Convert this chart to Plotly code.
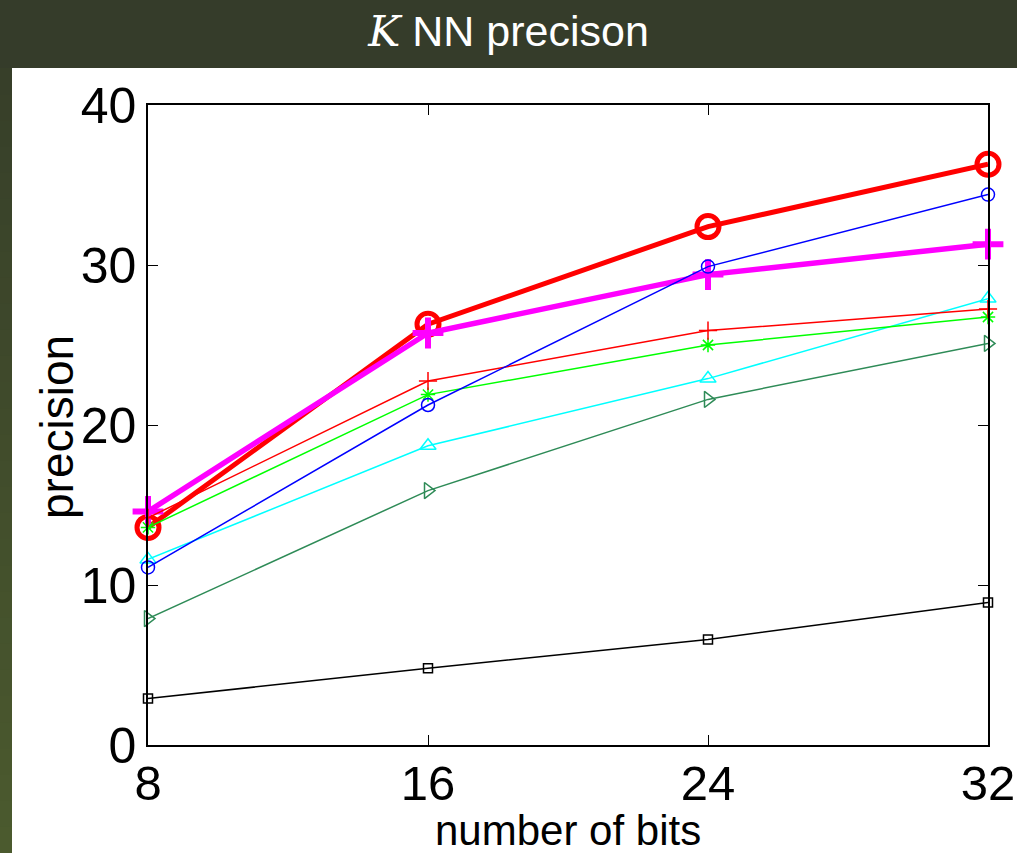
import plotly.graph_objects as go

bits = [8, 16, 24, 32]
red_thick = [13.6, 26.3, 32.4, 36.3]
magenta_thick = [14.6, 25.75, 29.4, 31.3]
blue = [11.1, 21.25, 29.9, 34.4]
red_thin = [14.2, 22.75, 25.9, 27.25]
green = [13.6, 21.9, 25.0, 26.75]
cyan = [11.6, 18.7, 22.9, 27.9]
seagreen = [7.9, 15.9, 21.6, 25.1]
black = [2.9, 4.8, 6.6, 8.9]

W, H = 1017, 853
L, R, T, B = 148, 988, 105, 745

def px(x):
    return (x - L) / (R - L)

def py(y):
    return (B - y) / (B - T)

fig = go.Figure()

series = [
    (red_thick, "#ff0000", 5, "circle-open", 22, 5),
    (magenta_thick, "#ff00ff", 5.5, "cross-thin-open", 22, 6),
    (black, "#000000", 1.5, "square-open", 9, 1.5),
    (seagreen, "#2e8b57", 1.5, "triangle-right-open", 14, 1.5),
    (cyan, "#00ffff", 1.5, "triangle-up-open", 14, 1.5),
    (green, "#00ff00", 1.5, "asterisk-open", 12, 1.5),
    (red_thin, "#ff0000", 1.5, "cross-thin-open", 13, 1.5),
    (blue, "#0000ff", 1.5, "circle-open", 13, 1.5),
]
for vals, col, lw, sym, ms, mlw in series:
    fig.add_trace(go.Scatter(
        x=bits, y=vals, mode="lines+markers",
        line=dict(color=col, width=lw),
        marker=dict(symbol=sym, size=ms, color=col, line=dict(color=col, width=mlw)),
        showlegend=False, cliponaxis=False,
    ))

shapes = []
shapes.append(dict(type="rect", xref="paper", yref="paper",
                   x0=px(-5), x1=px(W + 20), y0=py(68), y1=py(-5),
                   fillcolor="#353c2a", line=dict(width=0), layer="below"))
n = 30
c0 = (0x37, 0x3f, 0x29)
c1 = (0x4b, 0x5a, 0x2e)
for i in range(n):
    t = i / (n - 1)
    c = tuple(round(a + (b - a) * t) for a, b in zip(c0, c1))
    y0 = 68 + (H - 68) * i / n
    y1 = 68 + (H - 68) * (i + 1) / n + 1
    shapes.append(dict(type="rect", xref="paper", yref="paper",
                       x0=px(-5), x1=px(12), y0=py(y1 + (20 if i == n - 1 else 0)), y1=py(y0),
                       fillcolor="rgb(%d,%d,%d)" % c, line=dict(width=0), layer="below"))

annotations = [
    dict(text="number of bits", xref="paper", yref="paper",
         x=0.5, y=py(830), xanchor="center", yanchor="middle",
         showarrow=False, font=dict(size=42, color="black")),
    dict(text="precision", xref="paper", yref="paper",
         x=px(57), y=py(427), xanchor="center", yanchor="middle",
         textangle=-90, showarrow=False, font=dict(size=46, color="black")),
]

fig.update_layout(
    width=W, height=H,
    margin=dict(l=L, r=W - R, t=T, b=H - B, autoexpand=False),
    paper_bgcolor="white", plot_bgcolor="white",
    shapes=shapes,
    annotations=annotations,
    font=dict(family="Liberation Sans, Arial, sans-serif", color="black"),
    title=dict(
        text="<span style='font-family:DejaVu Serif, Liberation Serif, serif'><i>K</i></span> NN precison",
        x=0.5, xref="container", xanchor="center",
        y=1 - 31 / H, yref="container", yanchor="middle",
        font=dict(size=43, color="white", family="Liberation Sans, Arial, sans-serif"),
    ),
    xaxis=dict(
        range=[8, 32], tickvals=[8, 16, 24, 32], ticktext=["8", "16", "24", "32"],
        showgrid=False, zeroline=False, automargin=False,
        showline=True, linecolor="black", linewidth=1.5, mirror="ticks",
        ticks="inside", ticklen=10, tickwidth=1, tickcolor="black",
        tickfont=dict(size=49), ticklabelstandoff=-6,
    ),
    yaxis=dict(
        range=[0, 40], tickvals=[0, 10, 20, 30, 40],
        showgrid=False, zeroline=False, automargin=False,
        showline=True, linecolor="black", linewidth=1.5, mirror="ticks",
        ticks="inside", ticklen=10, tickwidth=1, tickcolor="black",
        tickfont=dict(size=50),
    ),
)

fig.write_html(
    "out.html",
    post_script="document.body.style.margin='0';document.body.style.overflow='hidden';",
)
